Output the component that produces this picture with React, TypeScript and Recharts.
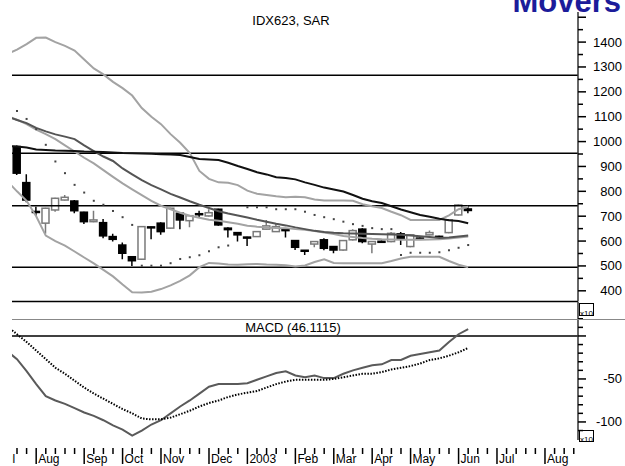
import { ComposedChart, Line, Bar, Scatter, XAxis, YAxis, ReferenceLine } from 'recharts';

// weekly bars, Fridays: week 0 = 19 Jul 2002, week 47 = 13 Jun 2003
const firstWeek = -1;
const weekCount = 49;

const opens = [980, 835, 719, 672, 725, 765, 761, 716, 678, 674, 618, 584, 537, 527, 657, 672, 652, 712, 682, 710, 701, 728, 652, 634, 616, 618, 648, 638, 646, 602, 563, 588, 605, 578, 564, 605, 648, 588, 599, 598, 629, 578, 612, 625, 619, 634, 705, 729];
const highs = [984, 869, 738, 734, 774, 785, 765, 718, 722, 689, 629, 594, 539, 660, 658, 676, 734, 715, 704, 722, 728, 730, 656, 636, 617, 640, 685, 672, 648, 604, 563, 600, 611, 580, 604, 648, 652, 600, 602, 636, 636, 628, 614, 642, 621, 687, 748, 745];
const lows = [866, 756, 701, 629, 718, 763, 712, 669, 676, 611, 598, 527, 500, 524, 607, 625, 650, 648, 656, 696, 699, 662, 614, 598, 580, 616, 646, 636, 614, 564, 544, 575, 563, 551, 561, 602, 591, 551, 594, 595, 584, 575, 606, 623, 612, 631, 703, 712];
const closes = [873, 765, 717, 732, 772, 776, 722, 678, 685, 621, 607, 551, 521, 658, 655, 638, 732, 685, 702, 708, 714, 665, 646, 625, 614, 638, 661, 658, 644, 575, 561, 598, 571, 564, 602, 642, 598, 598, 597, 631, 611, 625, 610, 634, 617, 685, 745, 723];

// indicator lines start one week earlier (week -1)
const bandUpper = [1352, 1370, 1392, 1417, 1418, 1400, 1385, 1366, 1330, 1294, 1270, 1240, 1215, 1185, 1135, 1100, 1070, 1030, 995, 954, 882, 850, 836, 834, 825, 803, 790, 785, 780, 776, 778, 776, 767, 763, 763, 763, 762, 748, 740, 733, 718, 704, 685, 685, 685, 685, 703, 728, 738];
const bandMiddle = [1102, 1088, 1070, 1048, 1030, 1010, 985, 960, 935, 912, 885, 858, 832, 808, 785, 762, 742, 728, 714, 702, 694, 686, 682, 676, 670, 662, 658, 655, 653, 652, 648, 645, 640, 634, 628, 620, 616, 612, 609, 607, 606, 605, 605, 605, 606, 607, 610, 614, 618];
const bandLower = [840, 800, 762, 700, 622, 600, 582, 558, 534, 510, 484, 458, 425, 394, 393, 396, 407, 422, 440, 462, 495, 512, 510, 506, 505, 507, 508, 506, 505, 503, 498, 502, 516, 527, 512, 511, 511, 511, 511, 511, 520, 530, 537, 537, 537, 537, 520, 505, 495];
const maShort = [1100, 1087, 1074, 1055, 1041, 1029, 1020, 1010, 985, 962, 940, 922, 892, 868, 845, 825, 808, 790, 775, 760, 746, 733, 720, 711, 703, 695, 686, 678, 670, 663, 655, 648, 641, 636, 633, 631, 630, 629, 628, 627, 626, 625, 622, 619, 616, 612, 614, 618, 622];
const maLong = [982, 980, 976, 968, 966, 964, 963, 962, 960, 959, 958, 956, 954, 953, 952, 951, 949, 948, 946, 938, 930, 928, 926, 915, 902, 890, 877, 868, 857, 854, 848, 836, 826, 815, 807, 799, 785, 770, 760, 753, 740, 727, 716, 705, 698, 690, 684, 681, 672];

// parabolic SAR, week 0..47
const sar = [1123, 1091, 1050, 987, 920, 873, 826, 795, 762, 746, 721, 696, 665, 501, 501, 501, 511, 528, 535, 543, 559, 575, 582, null, 736, 736, 736, 728, 728, 728, 718, 705, 696, 688, 678, 668, 661, 652, 648, 648, 544, 553, 553, 553, 555, 563, 573, 584];

// MACD panel, week -1..47
const macd = [-18, -27, -41, -56, -70, -75, -79, -84, -89, -93, -98, -104, -109, -116, -110, -103, -98, -90, -82, -75, -67, -59, -56, -56, -56, -55, -51, -47, -43, -41, -46, -48, -46, -49, -49, -44, -40, -37, -34, -33, -28, -28, -23, -21, -19, -17, -7, 2, 8];
const signal = [11, 2, -7, -17, -27, -37, -44, -52, -60, -67, -73, -79, -85, -90, -96, -97, -97, -95, -91, -87, -82, -78, -75, -71, -68, -66, -64, -60, -56, -53, -51, -51, -51, -51, -50, -48, -46, -44, -44, -42, -39, -37, -35, -32, -28, -26, -23, -19, -14];

const levels = [1267, 953, 742, 495];
const monthWeeks = [-2, 2, 7, 11, 15, 20, 24, 29, 33, 37, 41, 46, 50, 55];
const monthNames = ['Jul', 'Aug', 'Sep', 'Oct', 'Nov', 'Dec', '2003', 'Feb', 'Mar', 'Apr', 'May', 'Jun', 'Jul', 'Aug'];

const priceTicks = [400, 450, 500, 550, 600, 650, 700, 750, 800, 850, 900, 950, 1000, 1050, 1100, 1150, 1200, 1250, 1300, 1350, 1400, 1450, 1500];
const macdTicks = [20, 10, 0, -10, -20, -30, -40, -50, -60, -70, -80, -90, -100, -110];

const X_DOMAIN = [-0.52, 58.44];
const FONT = '"Liberation Sans", Arial, sans-serif';

const rows = Array.from({ length: weekCount }, (_, i) => {
  const w = firstWeek + i;
  const c = w >= 0 ? w : null;
  return {
    w,
    open: c === null ? null : opens[c],
    high: c === null ? null : highs[c],
    low: c === null ? null : lows[c],
    close: c === null ? null : closes[c],
    upper: bandUpper[i],
    middle: bandMiddle[i],
    lower: bandLower[i],
    maShort: maShort[i],
    maLong: maLong[i],
    macd: macd[i],
    signal: signal[i],
  };
});

const sarPoints = sar
  .map((v, w) => ({ w, sar: v }))
  .filter((p) => p.sar !== null);

const tickWeeks: number[] = [];
for (let w = -2; w <= 58; w++) tickWeeks.push(w);

function Candle(props: any) {
  const { x, y, width, height, payload } = props;
  if (payload.open == null) return null;
  const { open, close, high, low } = payload;
  const top = Math.min(y, y + height);
  const h = Math.abs(height);
  const k = h / (high - low);
  const yOf = (v: number) => top + (high - v) * k;
  const up = close > open;
  const color = up ? '#7a7a7a' : '#000';
  const cx = x + width / 2;
  const bTop = yOf(Math.max(open, close));
  const bBot = yOf(Math.min(open, close));
  return (
    <g>
      <line x1={cx} x2={cx} y1={top} y2={top + h} stroke={color} strokeWidth={1.5} />
      <rect
        x={x}
        y={bTop}
        width={width}
        height={Math.max(bBot - bTop, 1)}
        fill={up ? '#fff' : '#000'}
        stroke={color}
        strokeWidth={1.5}
      />
    </g>
  );
}

function SarDot(props: any) {
  const { cx, cy } = props;
  return <rect x={cx - 1} y={cy - 1} width={2} height={2} fill="#444" />;
}

function PriceTick(props: any) {
  const { x, y, payload } = props;
  const major = payload.value % 100 === 0;
  return (
    <g>
      <line x1={x} x2={x + (major ? 8 : 5)} y1={y} y2={y} stroke="#000" strokeWidth={1.5} />
      {major && payload.value < 1500 && (
        <text x={x + 44} y={y + 4.5} textAnchor="end" fontSize={13} fontFamily={FONT} fill="#000">
          {payload.value}
        </text>
      )}
    </g>
  );
}

function MacdTick(props: any) {
  const { x, y, payload } = props;
  const major = payload.value % 50 === 0;
  const label = payload.value === -50 || payload.value === -100;
  return (
    <g>
      <line x1={x} x2={x + (major ? 8 : 5)} y1={y} y2={y} stroke="#000" strokeWidth={1.5} />
      {label && (
        <text x={x + 44} y={y + 4.5} textAnchor="end" fontSize={13} fontFamily={FONT} fill="#000">
          {payload.value}
        </text>
      )}
    </g>
  );
}

function TimeTick(props: any) {
  const { x, y, payload } = props;
  const idx = monthWeeks.indexOf(payload.value);
  const month = idx >= 0;
  // the first month label sits left of the plot and is cut at its edge
  const clipped = month && idx === 0;
  return (
    <g>
      {clipped && (
        <defs>
          <clipPath id="first-month-clip">
            <rect x={12} y={0} width={100} height={500} />
          </clipPath>
        </defs>
      )}
      {x >= 11 && (
        <line x1={x} x2={x} y1={y + 8} y2={y + (month ? 24 : 14)} stroke="#000" strokeWidth={1.5} />
      )}
      {month && (
        <text
          x={x + 2}
          y={y + 23}
          fontSize={12}
          fontFamily={FONT}
          fill="#000"
          clipPath={clipped ? 'url(#first-month-clip)' : undefined}
        >
          {monthNames[idx]}
        </text>
      )}
    </g>
  );
}

export default function App() {
  return (
    <div style={{ position: 'absolute', left: 0, top: 0, width: 625, height: 466, background: '#fff', overflow: 'hidden' }}>
      <div style={{ position: 'absolute', left: 0, top: 0 }}>
        <ComposedChart width={625} height={310} data={rows} margin={{ top: 12, right: 0, bottom: 8.5, left: 12 }}>
          <XAxis dataKey="w" type="number" domain={X_DOMAIN} allowDataOverflow hide />
          <YAxis
            orientation="right"
            type="number"
            domain={[357, 1521]}
            allowDataOverflow
            ticks={priceTicks}
            interval={0}
            width={47}
            tickSize={0}
            tickMargin={0}
            tickLine={false}
            axisLine={{ stroke: '#333', strokeWidth: 1.5 }}
            tick={<PriceTick />}
          />
          {levels.map((v) => (
            <ReferenceLine key={v} y={v} stroke="#000" strokeWidth={1.5} />
          ))}
          <ReferenceLine y={357} stroke="#000" strokeWidth={1.5} />
          <Line dataKey="upper" stroke="#a3a3a3" strokeWidth={2} dot={false} isAnimationActive={false} />
          <Line dataKey="lower" stroke="#a3a3a3" strokeWidth={2} dot={false} isAnimationActive={false} />
          <Line dataKey="middle" stroke="#a3a3a3" strokeWidth={2} dot={false} isAnimationActive={false} />
          <Line dataKey="maShort" stroke="#555" strokeWidth={2} dot={false} isAnimationActive={false} />
          <Line dataKey="maLong" stroke="#111" strokeWidth={2} dot={false} isAnimationActive={false} />
          <Bar
            dataKey={(d: any) => (d.high == null ? null : [d.low, d.high])}
            name="price"
            barSize={7}
            shape={<Candle />}
            isAnimationActive={false}
          />
          <Scatter data={sarPoints} dataKey="sar" shape={<SarDot />} isAnimationActive={false} />
        </ComposedChart>
      </div>

      <div style={{ position: 'absolute', left: 0, top: 290 }}>
        <ComposedChart width={625} height={176} data={rows} margin={{ top: 12, right: 0, bottom: 0, left: 12 }}>
          <XAxis
            dataKey="w"
            type="number"
            domain={X_DOMAIN}
            allowDataOverflow
            ticks={tickWeeks}
            interval={0}
            height={26}
            tickSize={0}
            tickMargin={0}
            tickLine={false}
            axisLine={false}
            tick={<TimeTick />}
          />
          <YAxis
            orientation="right"
            type="number"
            domain={[-121, 39.5]}
            allowDataOverflow
            ticks={macdTicks}
            interval={0}
            width={47}
            tickSize={0}
            tickMargin={0}
            tickLine={false}
            axisLine={{ stroke: '#333', strokeWidth: 1.5 }}
            tick={<MacdTick />}
          />
          <ReferenceLine y={0} stroke="#000" strokeWidth={1.5} />
          <Line dataKey="macd" stroke="#5a5a5a" strokeWidth={2} dot={false} isAnimationActive={false} />
          <Line dataKey="signal" stroke="#000" strokeWidth={2} strokeDasharray="1.5 1.5" dot={false} isAnimationActive={false} />
        </ComposedChart>
      </div>

      <svg width={625} height={466} style={{ position: 'absolute', left: 0, top: 0, pointerEvents: 'none' }}>
        <text x={621} y={12} textAnchor="end" fontSize={31} fontWeight="bold" fontFamily={FONT} fill="#1c1c9a">
          Movers
        </text>
        <text x={291} y={25} textAnchor="middle" fontSize={13} fontFamily={FONT} fill="#000">
          IDX623, SAR
        </text>
        <line x1={12} x2={625} y1={319.5} y2={319.5} stroke="#888" strokeWidth={1} />
        <text x={293} y={332} textAnchor="middle" fontSize={13} fontFamily={FONT} fill="#000">
          MACD (46.1115)
        </text>
        <rect x={579.5} y={303.5} width={14} height={12} fill="none" stroke="#000" strokeWidth={1} />
        <text x={580} y={316} fontSize={8} fontFamily={FONT} fill="#000">x10</text>
        <rect x={579.5} y={430.5} width={14} height={11} fill="none" stroke="#000" strokeWidth={1} />
        <text x={580} y={442} fontSize={8} fontFamily={FONT} fill="#000">x10</text>
      </svg>
    </div>
  );
}
